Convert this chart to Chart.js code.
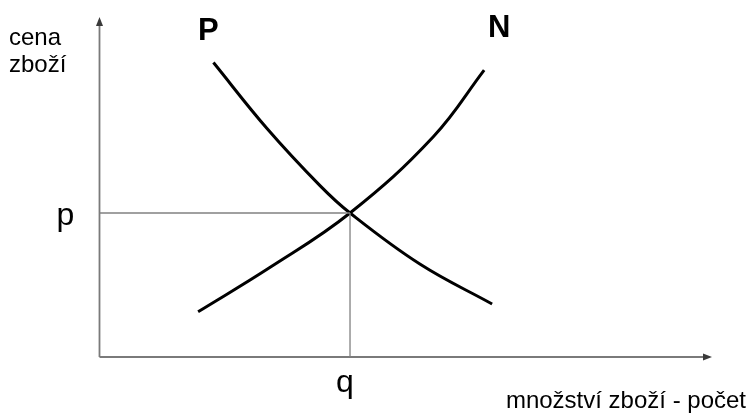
<!DOCTYPE html>
<html>
<head>
<meta charset="utf-8">
<script src="https://cdn.jsdelivr.net/npm/chart.js@4/dist/chart.umd.min.js"></script>
<style>
html,body{margin:0;padding:0;background:#fff;}
#wrap{width:747px;height:414px;position:relative;}
</style>
</head>
<body>
<div id="wrap"><canvas id="c"></canvas></div>
<script>
// Demand curve P (poptávka)
const quantityP = [18.6, 27.35, 36.0, 40.9, 52.3, 64.1];
const priceP    = [86.6, 67.2, 50.4, 42.35, 27.35, 15.6];
// Supply curve N (nabídka)
const quantityN = [16.1, 27.8, 40.9, 54.5, 62.8];
const priceN    = [13.3, 26.3, 42.35, 64.8, 84.4];
// Equilibrium
const eqQ = 40.9;
const eqP = 42.35;
// Axis range
const axisMin = 0;
const axisMax = 100;
// Labels
const curveLabels = ['P', 'N'];
const eqLabels = ['p', 'q'];
const yAxisTitle = ['cena', 'zboží'];
const xAxisTitle = 'množství zboží - počet';

const toPts = (xs, ys) => xs.map((x, i) => ({x: x, y: ys[i]}));

const FONT = '"Liberation Sans", Arial, Helvetica, sans-serif';

const decor = {
  id: 'decor',
  beforeDatasetsDraw(chart) {
    const ctx = chart.ctx;
    const xs = chart.scales.x, ys = chart.scales.y;
    const x0 = xs.getPixelForValue(axisMin), y0 = ys.getPixelForValue(axisMin);
    const xE = xs.getPixelForValue(axisMax), yE = ys.getPixelForValue(axisMax);
    ctx.save();
    ctx.strokeStyle = '#7a7a7a';
    ctx.fillStyle = '#3a3a3a';
    ctx.lineWidth = 1.8;
    ctx.beginPath();
    ctx.moveTo(x0, y0); ctx.lineTo(x0, yE + 6);
    ctx.moveTo(x0, y0); ctx.lineTo(xE - 6, y0);
    ctx.stroke();
    // arrowheads
    ctx.beginPath();
    ctx.moveTo(x0, yE); ctx.lineTo(x0 - 3.5, yE + 9); ctx.lineTo(x0 + 3.5, yE + 9); ctx.closePath();
    ctx.fill();
    ctx.beginPath();
    ctx.moveTo(xE, y0); ctx.lineTo(xE - 9, y0 - 3.5); ctx.lineTo(xE - 9, y0 + 3.5); ctx.closePath();
    ctx.fill();
    ctx.restore();
  },
  afterDatasetsDraw(chart) {
    const ctx = chart.ctx;
    const xs = chart.scales.x, ys = chart.scales.y;
    const x0 = xs.getPixelForValue(axisMin), y0 = ys.getPixelForValue(axisMin);
    ctx.save();
    ctx.fillStyle = '#000';
    ctx.textBaseline = 'alphabetic';
    // y-axis title
    ctx.textAlign = 'left';
    ctx.font = '24px ' + FONT;
    ctx.fillText(yAxisTitle[0], 9, 45);
    ctx.fillText(yAxisTitle[1], 9, 72);
    // x-axis title
    ctx.textAlign = 'right';
    ctx.fillText(xAxisTitle, 746, 408);
    // curve labels
    ctx.font = 'bold 31px ' + FONT;
    ctx.textAlign = 'center';
    ctx.fillText(curveLabels[0], xs.getPixelForValue(quantityP[0]) - 5, 40);
    ctx.fillText(curveLabels[1], xs.getPixelForValue(quantityN[quantityN.length - 1]) + 15, 37);
    // equilibrium labels
    ctx.font = '32px ' + FONT;
    ctx.fillText(eqLabels[0], x0 - 34, ys.getPixelForValue(eqP) + 12);
    ctx.fillText(eqLabels[1], xs.getPixelForValue(eqQ) - 5, y0 + 35);
    ctx.restore();
  }
};

new Chart(document.getElementById('c'), {
  type: 'scatter',
  data: {
    datasets: [
      {
        label: 'p guide',
        data: [{x: axisMin, y: eqP}, {x: eqQ, y: eqP}],
        showLine: true, borderColor: '#808080', borderWidth: 1.3, pointRadius: 0
      },
      {
        label: 'q guide',
        data: [{x: eqQ, y: eqP}, {x: eqQ, y: axisMin}],
        showLine: true, borderColor: '#808080', borderWidth: 1.3, pointRadius: 0
      },
      {
        label: 'P',
        data: toPts(quantityP, priceP),
        showLine: true, borderColor: '#000', borderWidth: 3, pointRadius: 0,
        tension: 0.4
      },
      {
        label: 'N',
        data: toPts(quantityN, priceN),
        showLine: true, borderColor: '#000', borderWidth: 3, pointRadius: 0,
        tension: 0.4
      }
    ]
  },
  options: {
    responsive: true,
    maintainAspectRatio: false,
    animation: false,
    layout: {padding: {left: 99.5, right: 35, top: 17, bottom: 57}},
    plugins: {legend: {display: false}, tooltip: {enabled: false}},
    scales: {
      x: {type: 'linear', display: false, min: axisMin, max: axisMax},
      y: {type: 'linear', display: false, min: axisMin, max: axisMax}
    }
  },
  plugins: [decor]
});
</script>
</body>
</html>
